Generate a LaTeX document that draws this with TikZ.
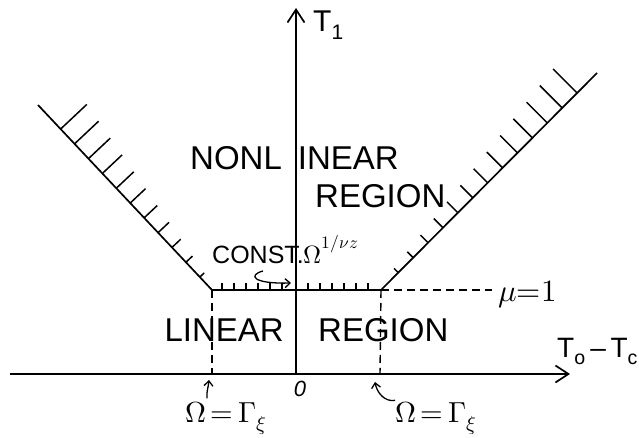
\documentclass[tikz,border=0pt]{standalone}
\usepackage{amsmath}
\usepackage{fontspec}
\usepackage{unicode-math}
\setmainfont{Liberation Sans}
\setmathfont{Latin Modern Math}
\usetikzlibrary{arrows.meta,calc}

\begin{document}
\begin{tikzpicture}[x=1pt, y=1pt,
  axis/.style={line width=1.7pt, -{Straight Barb[length=13pt,width=17pt,line width=1.7pt]}},
  bound/.style={line width=1.7pt},
  hatch/.style={line width=1.5pt},
  guide/.style={line width=1.4pt, dash pattern=on 8pt off 5pt},
  hand/.style={line width=1.3pt, -{Straight Barb[length=5pt,width=9pt,line width=1.3pt]}},
  big/.style={font=\fontsize{33}{36}\selectfont, inner sep=0pt},
  mid/.style={font=\fontsize{25}{28}\selectfont, inner sep=0pt},
  sml/.style={font=\fontsize{22}{24}\selectfont, inner sep=0pt}]
\useasboundingbox (0,0) rectangle (639,438);
% axes
\coordinate (orig) at (296,64);
\coordinate (xl) at (10,64);
\coordinate (xr) at (570,64);
\coordinate (yt) at (296,430);
\draw[axis] (xl) -- (xr);
\draw[axis] (orig) -- (yt);
% mu = 1 line and its kinks
\coordinate (kl) at (212,148);
\coordinate (kr) at (381,148);
\coordinate (dl) at (38,333);
\coordinate (dr) at (597,365);
\coordinate (muend) at (492,148);
\coordinate (fl) at (212,64);
\coordinate (fr) at (380,64);
\draw[bound] (dl) -- (kl) -- (kr) -- (dr);
\draw[guide] (kr) -- (muend);
\draw[guide] (kl) -- (fl);
\draw[guide] (kr) -- (fr);
% hatching
\foreach \i [evaluate=\i as \t using 0.13+0.08*\i,
             evaluate=\i as \l using 36-3*\i] in {0,...,10} {
  \coordinate (h) at ($(dl)!\t!(kl)$);
  \draw[hatch] (h) -- ($(h)!\l pt!90:(kl)$);
}
\foreach \i [evaluate=\i as \t using 0.08+0.069*\i,
             evaluate=\i as \l using 6+2.33*\i] in {0,...,12} {
  \coordinate (h) at ($(kr)!\t!(dr)$);
  \draw[hatch] (h) -- ($(h)!\l pt!90:(dr)$);
}
\foreach \d in {10,22,...,70,96,108,...,160}
  \draw[hatch] ([xshift=\d pt]kl) -- ++(0,7);
% labels
\node[big, anchor=base west] (nonlin) at (190,268) {NONL\hspace{16pt}INEAR};
\node[big, anchor=base west] (regup) at (315,230) {REGION};
\node[big, anchor=base east] (lin) at (284,96) {LINEAR};
\node[big, anchor=base west] (reglo) at (318,96) {REGION};
\node[mid, anchor=base west] (cst) at (212,174) {CONST.$\Omega^{\raisebox{6pt}{$\scriptstyle 1/\nu z$}}$};
\node[font=\fontsize{31}{33}\selectfont, inner sep=0pt, anchor=base west] (mulab) at (498,136) {$\mu{=}1$};
\node[font=\fontsize{30}{32}\selectfont, inner sep=0pt, anchor=base west] (tone) at (313,406) {T\textsubscript{1}};
\node[font=\fontsize{28}{30}\selectfont, inner sep=0pt, anchor=base west] (tdiff) at (557,80) {T\textsubscript{o}\,–\,T\textsubscript{c}};
\node[sml, anchor=base] (zero) at (300,41) {\textit{0}};
\node[font=\fontsize{29}{31}\selectfont, inner sep=0pt, anchor=base west] (omL) at (185,15) {$\Omega\,{=}\,\Gamma_{\xi}$};
\node[font=\fontsize{29}{31}\selectfont, inner sep=0pt, anchor=base west] (omR) at (395,15) {$\Omega\,{=}\,\Gamma_{\xi}$};
% hand arrows
\coordinate (tipL) at (209,58);
\coordinate (tipR) at (375,56);
\coordinate (hk) at (263,167);
\coordinate (hkT) at (291,155);
\draw[hand] ($(omL.north west)+(22,4)$) to[out=95,in=-95] (tipL);
\draw[hand] ($(omR.north west)+(0,2)$) to[out=190,in=-80] (tipR);
\draw[hand] (hk) .. controls (248,163) and (252,154) .. (hkT);
\end{tikzpicture}
\end{document}
